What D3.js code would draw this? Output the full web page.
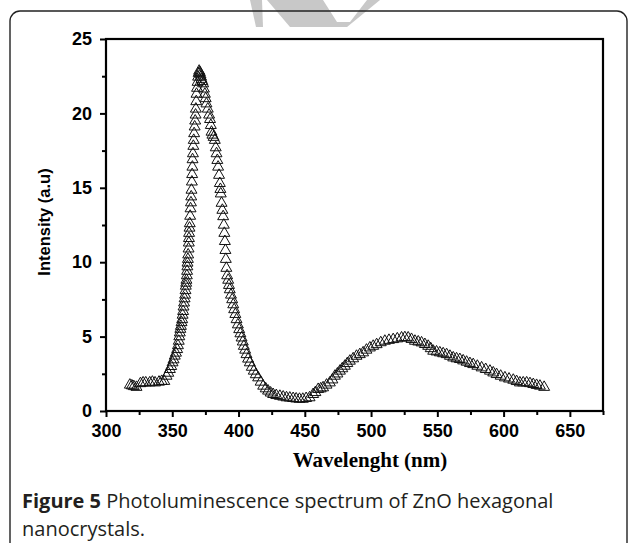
<!DOCTYPE html>
<meta charset="utf-8">
<script src="https://d3js.org/d3.v7.min.js"></script>
<style>
  body { margin: 0; background: #fff; }
</style>
<div id="graph"></div>
<script>
  // wavelength (nm) and PL intensity (a.u)
  var wavelength = [
    318, 319.5, 321, 323, 326, 328, 330, 333, 335, 337, 340, 342, 344,
    345.7, 347, 348.2, 349.2, 350.2, 351, 351.9, 352.8, 353.7, 354.3, 354.9, 355.3, 355.7, 356.1, 356.5, 357, 357.5, 357.8,
    358.2, 358.5, 358.9, 359.3, 359.7, 360, 360.2, 360.5, 360.7, 361, 361.2, 361.4, 361.5, 361.8, 362, 362.3, 362.5, 362.6,
    362.7, 363, 363.2, 363.5, 363.8, 364.1, 364.3, 364.5, 364.8, 365, 365.2, 365.3, 365.6, 365.9, 366.2, 366.5, 366.9, 367.3,
    367.6, 367.8, 368.1, 368.3, 368.7, 369.1, 369.5, 369.9, 370.3,
    370.8, 371.3, 371.7, 372.1, 372.7, 373.3, 373.9, 374.6, 375.2, 375.8, 376.8, 377.8, 378.5, 379.1, 379.6, 380.3, 381.2,
    382.1, 382.8, 383.4, 384, 384.6, 385.3, 385.9, 386.3, 386.6, 387.2, 387.8, 388.4, 388.9, 389.3, 389.7, 390.1, 390.4,
    390.8, 391.4, 392.2, 392.8, 393.4, 394.3, 395.2, 396, 396.7, 397.6, 398.5, 399.5, 400.5, 401.4, 402.3, 403.2, 404, 405,
    406, 407.2, 408.5, 410, 411.5, 413, 414.8, 416.7, 418.6, 420.5, 422.3, 424.2, 426.1, 428.5, 431.2, 433.7, 436.2, 438.7,
    441.2, 443.5, 446, 448.5, 451, 453.6,
    456.3, 458, 460.1, 462, 463.8, 466.4, 468.9, 470.8, 472.7, 474.6, 476.5, 478.3, 480.2, 482.1, 484, 486.5, 489, 491.5,
    494, 496.5, 499.1, 501.6, 504.2, 507.3, 510.4, 513.5, 516.7, 519.8, 523, 525.5, 528, 530.5, 533.1, 535.6, 538.1, 540.6,
    543.1, 545, 546.9, 549.4, 551.9, 554.4, 557, 559.5, 562, 564.5, 567, 569.5, 572.1, 574.6, 577.1, 580.2, 583.4, 586.5,
    589.7, 592.2, 594.7, 597.8, 601, 604.1, 607.3, 609.8, 612.3, 614.8, 617.4, 619.9, 622.4, 624.9, 627.4, 630.6
  ];
  var intensity = [
    1.75, 1.7, 1.65, 1.6, 1.85, 1.9, 1.9, 1.9, 1.95, 1.9, 1.95, 2.0, 2.0,
    2.35, 2.55, 2.8, 3.0, 3.25, 3.45, 3.7, 3.9, 4.14, 4.4, 4.7, 5.0, 5.26, 5.5, 5.7, 5.95, 6.15, 6.45,
    6.7, 7.0, 7.27, 7.55, 7.8, 8.1, 8.4, 8.6, 8.8, 9.1, 9.4, 9.7, 9.95, 10.2, 10.5, 10.9, 11.3, 11.6,
    11.95, 12.3, 12.6, 13.1, 13.6, 14.0, 14.4, 14.85, 15.4, 15.9, 16.4, 16.9, 17.3, 17.8, 18.2, 18.65, 19.1, 19.5,
    19.9, 20.3, 20.8, 21.3, 21.7, 22.1, 22.45, 22.7, 22.85,
    22.75, 22.6, 22.45, 22.3, 22.15, 22.0, 21.65, 21.3, 21.0, 20.65, 20.3, 19.9, 19.6, 19.2, 18.75, 18.55, 18.4,
    18.2, 17.7, 17.3, 16.85, 16.4, 15.85, 15.3, 14.9, 14.6, 13.97, 13.5, 13.07, 12.5, 11.95, 11.4, 10.8, 10.2,
    9.6, 9.1, 8.8, 8.45, 8.16, 7.8, 7.49, 7.15, 6.82, 6.5, 6.15, 5.8, 5.48, 5.2, 4.92, 4.65, 4.36, 4.1,
    3.8, 3.5, 3.25, 2.95, 2.69, 2.45, 2.24, 1.95, 1.68, 1.5, 1.35, 1.22, 1.12, 1.05, 1.0, 0.95, 0.9, 0.88,
    0.85, 0.82, 0.8, 0.8, 0.85, 0.9,
    1.12, 1.25, 1.46, 1.5, 1.57, 1.75, 1.9, 2.1, 2.35, 2.5, 2.69, 2.85, 3.02, 3.2, 3.36, 3.52, 3.69, 3.8,
    3.92, 4.1, 4.25, 4.36, 4.47, 4.6, 4.7, 4.76, 4.81, 4.86, 4.92, 4.94, 4.92, 4.82, 4.7, 4.65, 4.59, 4.48,
    4.36, 4.2, 4.03, 3.98, 3.92, 3.86, 3.8, 3.69, 3.58, 3.52, 3.47, 3.38, 3.29, 3.2, 3.13, 3.02, 2.91, 2.8,
    2.69, 2.57, 2.46, 2.35, 2.24, 2.16, 2.08, 1.99, 1.9, 1.9, 1.9, 1.85, 1.79, 1.73, 1.68, 1.6
  ];

  // tick values
  var xTicks = [300, 350, 400, 450, 500, 550, 600, 650];
  var xMinor = [325, 375, 425, 475, 525, 575, 625, 675];
  var yTicks = [0, 5, 10, 15, 20, 25];
  var yMinor = [2.5, 7.5, 12.5, 17.5, 22.5];

  var xTitle = "Wavelenght (nm)";
  var yTitle = "Intensity (a.u)";

  var W = 629, H = 543;
  var plot = { left: 106, right: 603, top: 39, bottom: 411 };

  var svg = d3.select("#graph")
    .append("svg")
    .attr("width", W)
    .attr("height", H);

  // watermark scrap at the top
  svg.append("polygon")
    .attr("points", "250,0 262,0 263,27 256,27")
    .attr("fill", "#c8c8c8");
  svg.append("polygon")
    .attr("points", "267,0 323,0 337,22 350,22 367,0 380,0 347,27 290,27")
    .attr("fill", "#c8c8c8");

  // figure box
  svg.append("rect")
    .attr("x", 10).attr("y", 11)
    .attr("width", 617).attr("height", 600)
    .attr("rx", 10)
    .attr("fill", "none")
    .attr("stroke", "#222")
    .attr("stroke-width", 1.4);

  var x = d3.scaleLinear().domain([300, 675]).range([plot.left, plot.right]);
  var y = d3.scaleLinear().domain([0, 25]).range([plot.bottom, plot.top]);

  // frame
  svg.append("rect")
    .attr("x", plot.left).attr("y", plot.top)
    .attr("width", plot.right - plot.left)
    .attr("height", plot.bottom - plot.top)
    .attr("fill", "none")
    .attr("stroke", "#000")
    .attr("stroke-width", 2.2);

  // axes
  svg.append("g")
    .attr("transform", "translate(0," + plot.bottom + ")")
    .call(d3.axisBottom(x).tickValues(xTicks).tickSize(6).tickPadding(7).tickFormat(d3.format("d")));
  svg.append("g")
    .attr("transform", "translate(0," + plot.bottom + ")")
    .call(d3.axisBottom(x).tickValues(xMinor).tickSize(4).tickFormat(""));
  svg.append("g")
    .attr("transform", "translate(" + plot.left + ",0)")
    .call(d3.axisLeft(y).tickValues(yTicks).tickSize(6).tickPadding(8).tickFormat(d3.format("d")));
  svg.append("g")
    .attr("transform", "translate(" + plot.left + ",0)")
    .call(d3.axisLeft(y).tickValues(yMinor).tickSize(4).tickFormat(""));

  svg.selectAll(".domain").remove();
  svg.selectAll(".tick line").attr("stroke", "#000").attr("stroke-width", 2);
  svg.selectAll(".tick text")
    .attr("fill", "#000")
    .style("font-family", "'Liberation Sans', Arial, sans-serif")
    .style("font-weight", "bold")
    .style("font-size", "18px");

  // axis titles
  svg.append("text")
    .attr("x", 370).attr("y", 467)
    .attr("text-anchor", "middle")
    .style("font-family", "'Liberation Serif', 'Times New Roman', serif")
    .style("font-weight", "bold")
    .style("font-size", "21px")
    .text(xTitle);
  svg.append("text")
    .attr("transform", "translate(50,222) rotate(-90)")
    .attr("text-anchor", "middle")
    .style("font-family", "'Liberation Sans', Arial, sans-serif")
    .style("font-weight", "bold")
    .style("font-size", "16.5px")
    .text(yTitle);

  // hollow triangle markers
  var tri = d3.symbol().type(d3.symbolTriangle).size(52);
  svg.append("g")
    .selectAll("path")
    .data(wavelength.map(function (d, i) { return [d, intensity[i]]; }))
    .enter()
    .append("path")
    .attr("d", tri)
    .attr("transform", function (d) { return "translate(" + x(d[0]) + "," + y(d[1]) + ")"; })
    .attr("fill", "none")
    .attr("stroke", "#111")
    .attr("stroke-width", 1);

  // caption
  var cap = svg.append("g")
    .style("font-family", "'Open Sans', sans-serif")
    .style("font-size", "20px")
    .attr("fill", "#231f20");
  var l1 = cap.append("text").attr("x", 22).attr("y", 508);
  l1.append("tspan").style("font-weight", "bold").text("Figure 5");
  l1.append("tspan").text(" Photoluminescence spectrum of ZnO hexagonal");
  cap.append("text").attr("x", 22).attr("y", 536).text("nanocrystals.");
</script>
